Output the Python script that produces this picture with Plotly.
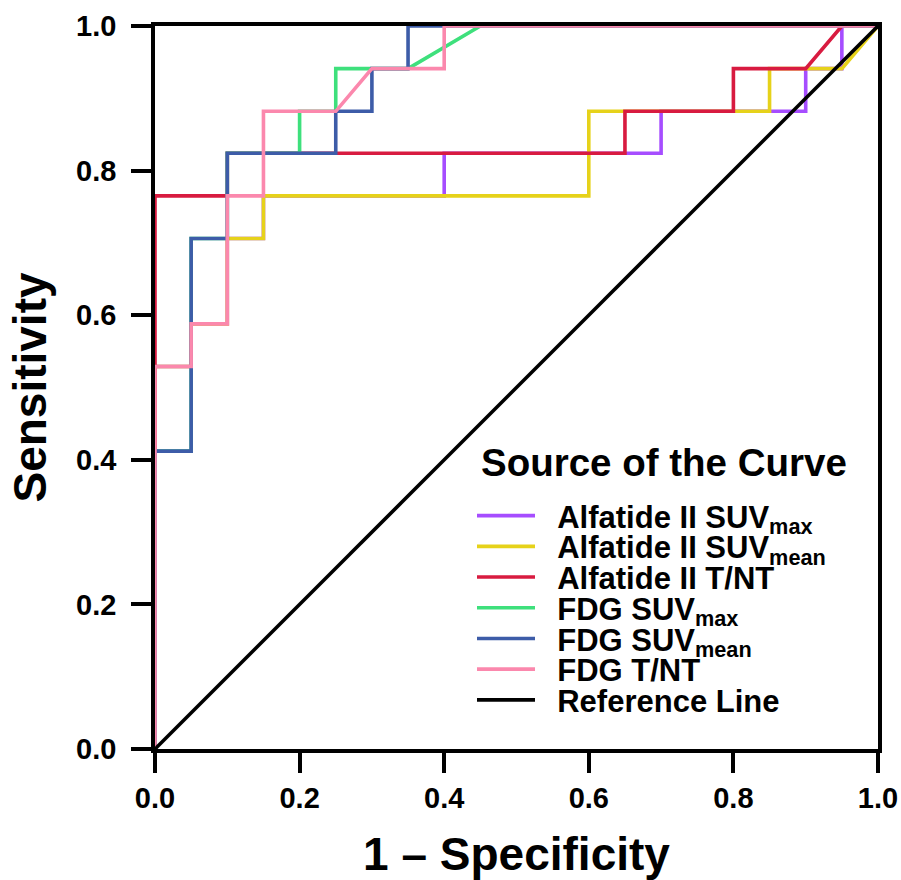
import plotly.graph_objects as go

# ROC curves: false positive rate (1 - specificity) and sensitivity
alf_suvmax_fpr = [0, 0, 0.05, 0.05, 0.10, 0.10, 0.15, 0.15, 0.40, 0.40, 0.70, 0.70, 0.90, 0.90, 0.95, 0.95, 1.0]
alf_suvmax_tpr = [0, 0.529, 0.529, 0.588, 0.588, 0.706, 0.706, 0.765, 0.765, 0.824, 0.824, 0.882, 0.882, 0.941, 0.941, 1.0, 1.0]

alf_suvmean_fpr = [0, 0, 0.05, 0.05, 0.10, 0.10, 0.15, 0.15, 0.60, 0.60, 0.85, 0.85, 0.95, 1.0]
alf_suvmean_tpr = [0, 0.529, 0.529, 0.588, 0.588, 0.706, 0.706, 0.765, 0.765, 0.882, 0.882, 0.941, 0.941, 1.0]

alf_tnt_fpr = [0, 0, 0.10, 0.10, 0.65, 0.65, 0.80, 0.80, 0.90, 0.95, 1.0]
alf_tnt_tpr = [0, 0.765, 0.765, 0.824, 0.824, 0.882, 0.882, 0.941, 0.941, 1.0, 1.0]

fdg_suvmax_fpr = [0, 0, 0.05, 0.05, 0.10, 0.10, 0.20, 0.20, 0.25, 0.25, 0.35, 0.45, 1.0]
fdg_suvmax_tpr = [0, 0.412, 0.412, 0.706, 0.706, 0.824, 0.824, 0.882, 0.882, 0.941, 0.941, 1.0, 1.0]

fdg_suvmean_fpr = [0, 0, 0.05, 0.05, 0.10, 0.10, 0.25, 0.25, 0.30, 0.30, 0.35, 0.35, 1.0]
fdg_suvmean_tpr = [0, 0.412, 0.412, 0.706, 0.706, 0.824, 0.824, 0.882, 0.882, 0.941, 0.941, 1.0, 1.0]

fdg_tnt_fpr = [0, 0, 0.05, 0.05, 0.10, 0.10, 0.15, 0.15, 0.25, 0.30, 0.40, 0.40, 1.0]
fdg_tnt_tpr = [0, 0.529, 0.529, 0.588, 0.588, 0.765, 0.765, 0.882, 0.882, 0.941, 0.941, 1.0, 1.0]

ref_fpr = [0, 1]
ref_tpr = [0, 1]

series_names = [
    "Alfatide II SUV<sub>max</sub>",
    "Alfatide II SUV<sub>mean</sub>",
    "Alfatide II T/NT",
    "FDG SUV<sub>max</sub>",
    "FDG SUV<sub>mean</sub>",
    "FDG T/NT",
    "Reference Line",
]
series_colors = ["#a64dff", "#e6d21a", "#d81b40", "#3ee07c", "#3d5ca8", "#fb88ad", "#000000"]
series_x = [alf_suvmax_fpr, alf_suvmean_fpr, alf_tnt_fpr, fdg_suvmax_fpr, fdg_suvmean_fpr, fdg_tnt_fpr, ref_fpr]
series_y = [alf_suvmax_tpr, alf_suvmean_tpr, alf_tnt_tpr, fdg_suvmax_tpr, fdg_suvmean_tpr, fdg_tnt_tpr, ref_tpr]

tick_vals = [0, 0.2, 0.4, 0.6, 0.8, 1.0]
tick_text = ["0.0", "0.2", "0.4", "0.6", "0.8", "1.0"]

FONT = "Liberation Sans, Arial, sans-serif"
NB = "\u00a0\u00a0"

fig = go.Figure()
legend_ids = ["legend", "legend2", "legend3", "legend4", "legend5", "legend6", "legend7"]
for name, color, xs, ys, lid in zip(series_names, series_colors, series_x, series_y, legend_ids):
    fig.add_trace(go.Scatter(
        x=xs, y=ys, mode="lines", name=NB + name,
        line=dict(color=color, width=3.6),
        legend=lid, hoverinfo="skip",
    ))

W, H = 901, 880
ml, mr, mt, mb = 155, 23, 26, 131
pw = W - ml - mr
ph = H - mt - mb

def py(pix):
    return 1 - (pix - mt) / ph

def px(pix):
    return (pix - ml) / pw

leg_font = dict(family=FONT, size=31, color="black", weight="bold")
row0 = 516
row_gap = 30.7
layout_legends = {}
for i, lid in enumerate(legend_ids):
    layout_legends[lid] = dict(
        x=px(472), xanchor="left",
        y=py(row0 + i * row_gap), yanchor="middle",
        bgcolor="rgba(0,0,0,0)", borderwidth=0,
        font=leg_font, itemwidth=58, tracegroupgap=0,
    )

fig.update_layout(**layout_legends)

fig.add_annotation(
    xref="paper", yref="paper",
    x=px(479), xanchor="left",
    y=py(462), yanchor="middle",
    text="Source of the Curve", showarrow=False,
    font=dict(family=FONT, size=38.5, color="black", weight="bold"),
)

axis_common = dict(
    range=[0, 1], tickvals=tick_vals, ticktext=tick_text,
    showgrid=False, zeroline=False, automargin=False,
    showline=True, linecolor="black", linewidth=3.5, mirror=True,
    ticks="outside", ticklen=20, tickwidth=3.5, tickcolor="black",
    tickfont=dict(family=FONT, size=29, color="black", weight="bold"),
    fixedrange=True,
)

fig.update_xaxes(**axis_common,
                 title=dict(text="1 – Specificity", standoff=29,
                            font=dict(family=FONT, size=46, color="black", weight="bold")))
fig.update_yaxes(**axis_common, ticklabelstandoff=9,
                 title=dict(text="Sensitivity", standoff=16,
                            font=dict(family=FONT, size=46, color="black", weight="bold")))

fig.update_layout(
    width=W, height=H,
    margin=dict(l=ml, r=mr, t=mt, b=mb),
    plot_bgcolor="white", paper_bgcolor="white",
    showlegend=True,
)

fig.write_html("out.html", config={"displayModeBar": False},
               post_script="document.body.style.margin='0px';")
